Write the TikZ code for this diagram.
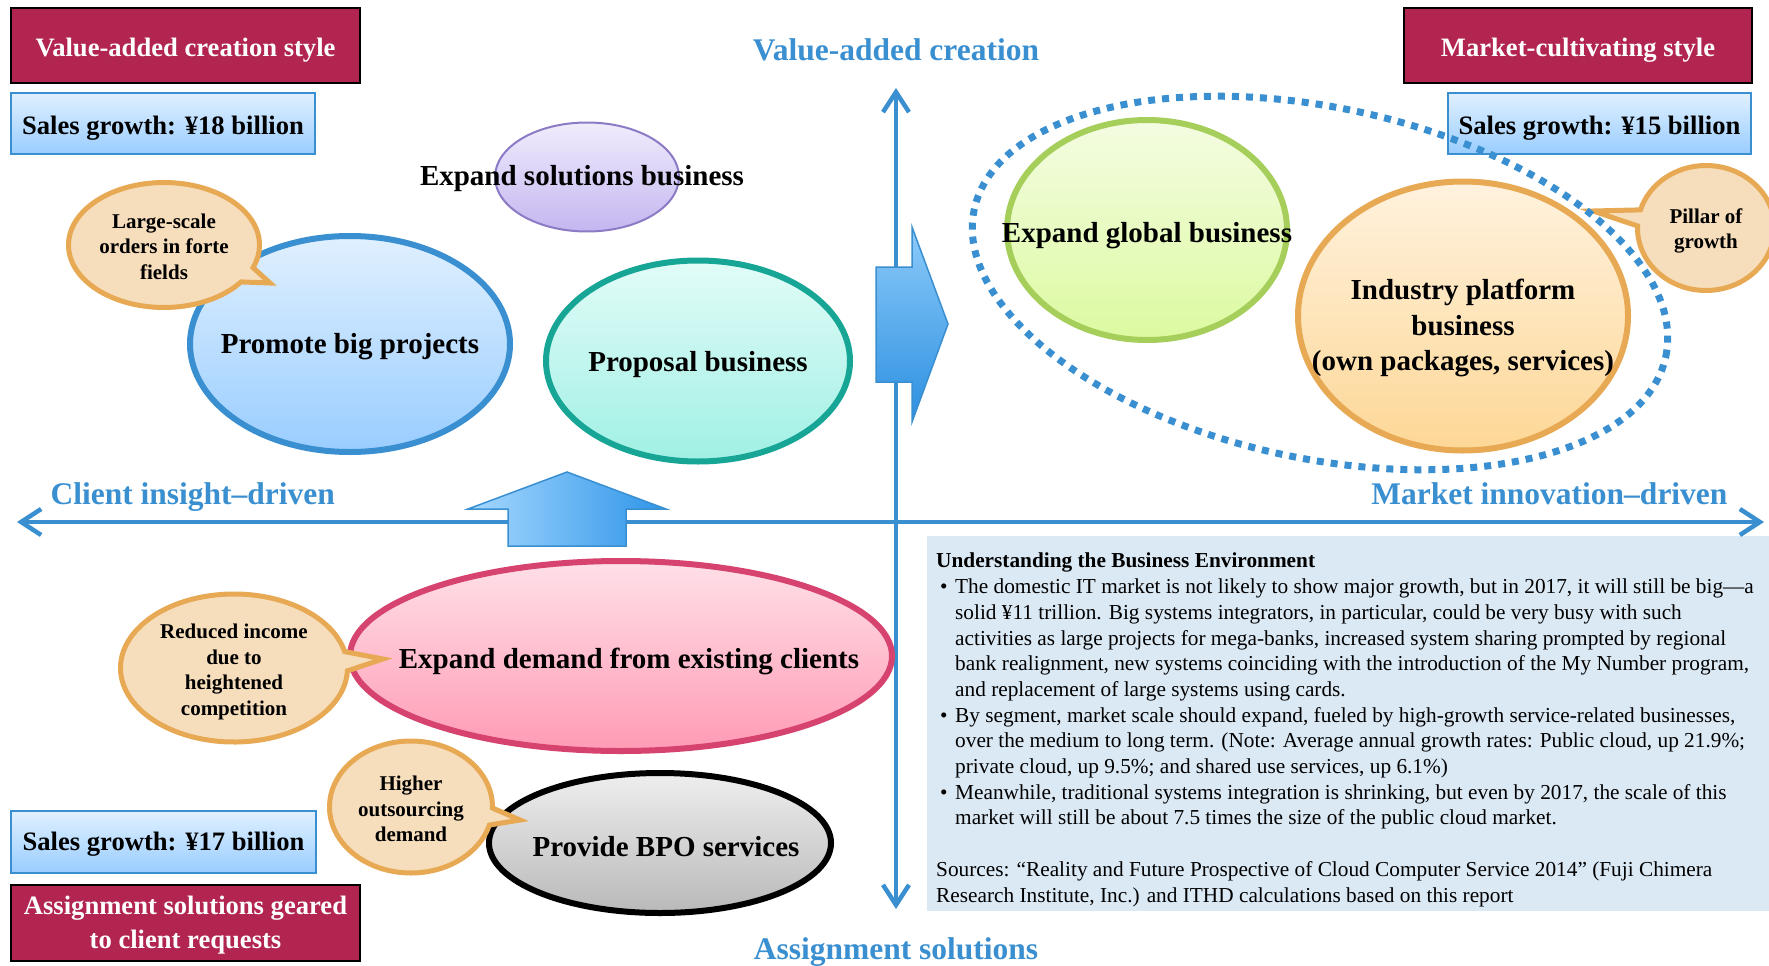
\documentclass[tikz,border=0pt]{standalone}
\usepackage{fontspec}
\setmainfont{Liberation Serif}
\usetikzlibrary{shapes.geometric}
\usetikzlibrary{shapes.callouts}
\usetikzlibrary{arrows.meta}

\definecolor{axisblue}{RGB}{58,143,208}
\definecolor{boxred}{RGB}{177,37,80}
\definecolor{skytop}{RGB}{224,240,255}
\definecolor{skybot}{RGB}{153,205,255}
\definecolor{notefill}{RGB}{246,222,188}
\definecolor{noteline}{RGB}{232,169,84}
\definecolor{envfill}{RGB}{219,233,245}

\begin{document}
\begin{tikzpicture}[x=1pt,y=-1pt,
    redbox/.style={rectangle,draw=black,line width=2.5pt,fill=boxred,inner sep=0pt},
    bluebox/.style={rectangle,draw=axisblue,line width=2pt,top color=skytop,bottom color=skybot,inner sep=0pt},
    boxtext/.style={align=center,font=\fontsize{26.6}{34}\selectfont\bfseries},
    bubble/.style={ellipse,inner sep=0pt,line width=6pt},
    note/.style={ellipse callout,inner sep=0pt,line width=5pt,draw=noteline,fill=notefill},
    bigtext/.style={align=center,font=\fontsize{29}{35.5}\selectfont\bfseries},
    smalltext/.style={align=center,font=\fontsize{21}{25.5}\selectfont\bfseries},
    axistext/.style={text=axisblue,font=\fontsize{31.5}{36}\selectfont\bfseries},
    axisline/.style={axisblue,line width=4.5pt,
        arrows={Straight Barb[length=20pt,width=26pt]}-{Straight Barb[length=20pt,width=26pt]}},
    blockarrow/.style={draw=axisblue,line width=1.5pt}]

    % \draw [help lines] (0,0) grid[step=100] (1769,966);
    \useasboundingbox (0,0) rectangle (1769,966);

    \path (1348,723.5) node (t) [rectangle,fill=envfill,minimum width=842pt,minimum height=375pt] {};

    \coordinate (w1) at (17,522);
    \coordinate (w2) at (1764,522);
    \coordinate (v1) at (896,909);
    \coordinate (v2) at (896,88);

    \draw[axisline] (node cs: name=w1) -- (node cs: name=w2);
    \draw[axisline] (node cs: name=v1) -- (node cs: name=v2);

    \draw[blockarrow,left color={rgb,255:red,166;green,216;blue,255},right color={rgb,255:red,46;green,149;blue,232}]
        (508,546) -- (508,509) -- (468,509) -- (567,472) -- (666,509) -- (626,509) -- (626,546) -- cycle;
    \draw[blockarrow,top color={rgb,255:red,141;green,203;blue,250},bottom color={rgb,255:red,43;green,143;blue,224}]
        (876,267) -- (912,267) -- (912,227) -- (948,324) -- (912,422) -- (912,382) -- (876,382) -- cycle;

    \path   (185.5,45.5) node (n) [redbox,minimum width=349pt,minimum height=75pt] {}
            (1578,45.5) node (o) [redbox,minimum width=348pt,minimum height=75pt] {}
            (185.5,923) node (p) [redbox,minimum width=349pt,minimum height=76pt] {}

            (163,123.5) node (q) [bluebox,minimum width=304pt,minimum height=61pt] {}
            (1599.5,123.5) node (r) [bluebox,minimum width=303pt,minimum height=61pt] {}
            (163.5,842) node (s) [bluebox,minimum width=305pt,minimum height=62pt] {};

    \node [boxtext,text=white] (n1) at ([yshift=-4.5pt]n) {Value-added creation style};
    \node [boxtext,text=white] (o1) at ([yshift=-4.5pt]o) {Market-cultivating style};
    \node [boxtext,text=white] (p1) at ([yshift=-2.5pt]p) {Assignment solutions geared\\to client requests};
    \node [boxtext] (q1) at ([yshift=-4.5pt]q) {Sales growth: ¥18 billion};
    \node [boxtext] (r1) at ([yshift=-4.5pt]r) {Sales growth: ¥15 billion};
    \node [boxtext] (s1) at ([yshift=-2pt]s) {Sales growth: ¥17 billion};

    \path   (350,344) node (b) [bubble,minimum width=320pt,minimum height=216pt,draw=axisblue,top color=skytop,bottom color=skybot] {}
            (698,361) node (c) [bubble,minimum width=304pt,minimum height=201pt,draw={rgb,255:red,23;green,165;blue,150},
                top color={rgb,255:red,226;green,252;blue,248},bottom color={rgb,255:red,160;green,240;blue,228}] {}
            (587,177) node (d) [bubble,line width=2pt,minimum width=184pt,minimum height=109pt,draw={rgb,255:red,140;green,122;blue,196},
                top color={rgb,255:red,240;green,236;blue,252},bottom color={rgb,255:red,196;green,182;blue,240}] {}
            (1147,230) node (e) [bubble,minimum width=280pt,minimum height=220pt,draw={rgb,255:red,166;green,206;blue,90},
                top color={rgb,255:red,244;green,252;blue,226},bottom color={rgb,255:red,220;green,250;blue,160}] {}
            (1463,316) node (f) [bubble,minimum width=330pt,minimum height=269pt,draw=noteline,
                top color={rgb,255:red,255;green,242;blue,222},bottom color={rgb,255:red,253;green,215;blue,150}] {}
            (621,656) node (h) [bubble,minimum width=542pt,minimum height=190pt,draw={rgb,255:red,214;green,67;blue,110},
                top color={rgb,255:red,255;green,224;blue,232},bottom color={rgb,255:red,255;green,155;blue,180}] {}
            (660,843) node (i) [bubble,minimum width=342pt,minimum height=140pt,draw=black,
                top color={rgb,255:red,238;green,238;blue,238},bottom color={rgb,255:red,185;green,185;blue,185}] {};

    \path   (164,245) node (j) [note,minimum width=191pt,minimum height=125pt,callout absolute pointer={(270,283)}] {}
            (234,668) node (k) [note,minimum width=227pt,minimum height=148pt,callout absolute pointer={(383,659)}] {}
            (411,807) node (l) [note,minimum width=163pt,minimum height=132pt,callout absolute pointer={(520,820)}] {}
            (1706,228) node (m) [note,minimum width=137pt,minimum height=125pt,callout absolute pointer={(1593,211)}] {};

    \path (1320,283) node (g) [ellipse,rotate=-12,minimum width=707pt,minimum height=351pt,
        draw=axisblue,line width=7pt,dash pattern=on 7pt off 7pt] {};

    \node [bigtext] (b1) at ([yshift=-3pt]b) {Promote big projects};
    \node [bigtext] (c1) at ([yshift=-4pt]c) {Proposal business};
    \node [bigtext] (d1) at ([xshift=-5pt,yshift=-2pt]d) {Expand solutions business};
    \node [bigtext] (e1) at ([yshift=-6pt]e) {Expand global business};
    \node [bigtext] (f1) at ([yshift=-12pt]f) {Industry platform\\business\\(own packages, services)};
    \node [bigtext] (h1) at ([xshift=8pt,yshift=-5pt]h) {Expand demand from existing clients};
    \node [bigtext] (i1) at ([xshift=6pt,yshift=-4pt]i) {Provide BPO services};

    \node [smalltext] (j1) at ([yshift=-1.5pt]j) {Large-scale\\orders in forte\\fields};
    \node [smalltext] (k1) at ([yshift=-4pt]k) {Reduced income\\due to\\heightened\\competition};
    \node [smalltext] (l1) at ([yshift=-2pt]l) {Higher\\outsourcing\\demand};
    \node [smalltext] (m1) at ([yshift=-3pt]m) {Pillar of\\growth};

    \node [axistext] (x1) at (896,50) {Value-added creation};
    \node [axistext,anchor=west] (x2) at (47,497) {Client insight–driven};
    \node [axistext,anchor=east] (x3) at (1731,494) {Market innovation–driven};
    \node [axistext] (x4) at (896,952) {Assignment solutions};

    \node [anchor=north west,inner sep=0pt,align=left,font=\fontsize{21.3}{25.7}\selectfont] (t1) at (936,553)
    {
    {\bfseries Understanding the Business Environment}\\
    \hspace*{4pt}\makebox[15pt][l]{•}The domestic IT market is not likely to show major growth, but in 2017, it will still be big—a\\
    \hspace*{19pt}solid ¥11 trillion. Big systems integrators, in particular, could be very busy with such\\
    \hspace*{19pt}activities as large projects for mega-banks, increased system sharing prompted by regional\\
    \hspace*{19pt}bank realignment, new systems coinciding with the introduction of the My Number program,\\
    \hspace*{19pt}and replacement of large systems using cards.\\
    \hspace*{4pt}\makebox[15pt][l]{•}By segment, market scale should expand, fueled by high-growth service-related businesses,\\
    \hspace*{19pt}over the medium to long term. (Note: Average annual growth rates: Public cloud, up 21.9\%;\\
    \hspace*{19pt}private cloud, up 9.5\%; and shared use services, up 6.1\%)\\
    \hspace*{4pt}\makebox[15pt][l]{•}Meanwhile, traditional systems integration is shrinking, but even by 2017, the scale of this\\
    \hspace*{19pt}market will still be about 7.5 times the size of the public cloud market.\\[25.7pt]
    Sources: “Reality and Future Prospective of Cloud Computer Service 2014” (Fuji Chimera\\
    Research Institute, Inc.) and ITHD calculations based on this report
    };
\end{tikzpicture}
\end{document}
